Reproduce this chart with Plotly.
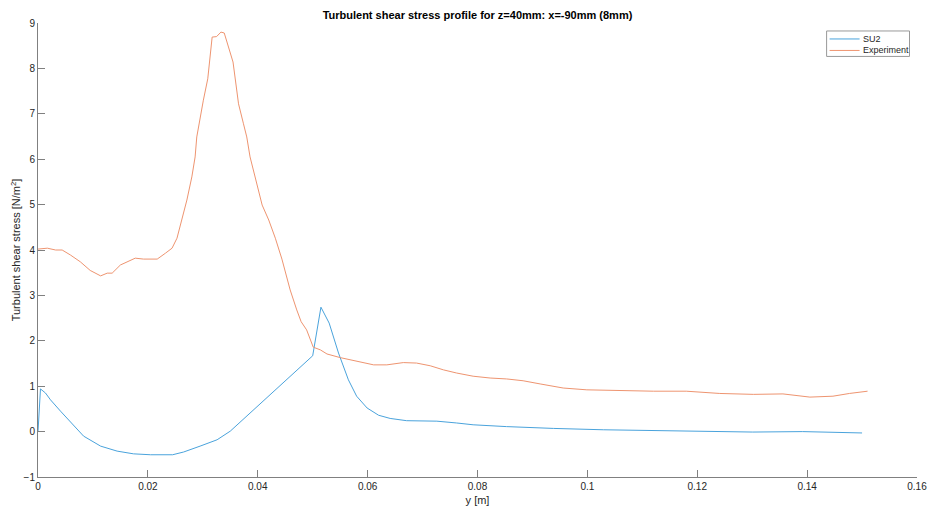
import plotly.graph_objects as go

# SU2 simulation profile
su2_y = [0.0, 0.00045, 0.00136, 0.00227, 0.0041, 0.0059, 0.0083, 0.0114, 0.0144,
         0.0174, 0.0205, 0.0245, 0.0265, 0.0295, 0.0326, 0.0350, 0.0386, 0.0417,
         0.0447, 0.0477, 0.0500, 0.0515, 0.0530, 0.0547, 0.0565, 0.0580, 0.0599,
         0.0620, 0.0641, 0.0671, 0.0726, 0.0762, 0.0792, 0.0853, 0.0914, 0.0938,
         0.1029, 0.1120, 0.1211, 0.1301, 0.1392, 0.1453, 0.1500]
su2_tau = [0.0, 0.94, 0.85, 0.70, 0.45, 0.21, -0.10, -0.32, -0.43,
           -0.49, -0.51, -0.51, -0.45, -0.32, -0.18, 0.01, 0.41, 0.74,
           1.07, 1.40, 1.67, 2.74, 2.39, 1.73, 1.14, 0.78, 0.52,
           0.36, 0.29, 0.24, 0.23, 0.19, 0.15, 0.11, 0.08, 0.07,
           0.04, 0.02, 0.0, -0.01, 0.0, -0.02, -0.03]

# Measured profile
exp_y = [0.0, 0.0017, 0.0032, 0.0044, 0.0059, 0.0077, 0.0095, 0.0105, 0.0114,
         0.0126, 0.0135, 0.0150, 0.0162, 0.0177, 0.0192, 0.0217, 0.0232, 0.0244,
         0.0253, 0.0262, 0.0271, 0.0280, 0.0286, 0.0289, 0.0295, 0.0301, 0.0309,
         0.0312, 0.0317, 0.0325, 0.0333, 0.0339, 0.0347, 0.0355, 0.0361, 0.0365,
         0.0374, 0.0380, 0.0386, 0.0397, 0.0408, 0.0420, 0.0432, 0.0444, 0.0459,
         0.0471, 0.0479, 0.0489, 0.0495, 0.0501, 0.0514, 0.0526, 0.0550, 0.0580,
         0.0611, 0.0635, 0.0665, 0.0689, 0.0714, 0.0738, 0.0762, 0.0792, 0.0823,
         0.0853, 0.0883, 0.0914, 0.0956, 0.0999, 0.1059, 0.1120, 0.1180, 0.1241,
         0.1302, 0.1356, 0.1405, 0.1447, 0.1477, 0.1510]
exp_tau = [4.02, 4.04, 4.00, 4.00, 3.89, 3.74, 3.55, 3.49, 3.43,
           3.49, 3.49, 3.67, 3.73, 3.82, 3.80, 3.80, 3.93, 4.04,
           4.26, 4.66, 5.10, 5.61, 6.05, 6.49, 6.93, 7.30, 7.77,
           8.10, 8.69, 8.70, 8.80, 8.78, 8.47, 8.14, 7.59, 7.22,
           6.78, 6.49, 6.05, 5.54, 4.99, 4.66, 4.26, 3.80, 3.12,
           2.68, 2.42, 2.24, 2.06, 1.86, 1.80, 1.71, 1.63, 1.55,
           1.47, 1.47, 1.52, 1.51, 1.45, 1.36, 1.29, 1.22, 1.18,
           1.16, 1.12, 1.05, 0.96, 0.92, 0.90, 0.89, 0.89, 0.84,
           0.82, 0.83, 0.76, 0.78, 0.84, 0.89]

x_ticks = [0, 0.02, 0.04, 0.06, 0.08, 0.1, 0.12, 0.14, 0.16]
x_tick_text = ["0", "0.02", "0.04", "0.06", "0.08", "0.1", "0.12", "0.14", "0.16"]
y_ticks = [-1, 0, 1, 2, 3, 4, 5, 6, 7, 8, 9]

series_names = ["SU2", "Experiment"]
series_colors = ["#4aa3dc", "#ee9470"]

W, H = 930, 512
ML, MR, MT, MB = 37.5, 12.5, 22.5, 34.5
FONT = "Liberation Sans, Arial, sans-serif"
AXIS_COLOR = "#808080"
TEXT_COLOR = "#262626"


def px_to_paper(px, py):
    """Convert page pixel position to paper (plot-area) coordinates."""
    return (px - ML) / (W - ML - MR), (H - MB - py) / (H - MT - MB)


fig = go.Figure()
for xs, ys, name, color in [(su2_y, su2_tau, series_names[0], series_colors[0]),
                            (exp_y, exp_tau, series_names[1], series_colors[1])]:
    fig.add_trace(go.Scatter(x=xs, y=ys, mode="lines", name=name,
                             line=dict(color=color, width=1), showlegend=False))

axis_common = dict(
    showgrid=False, zeroline=False, showline=True, linecolor=AXIS_COLOR,
    linewidth=1, ticks="inside", ticklen=7, tickcolor=AXIS_COLOR, tickwidth=1,
    tickfont=dict(family=FONT, size=10, color=TEXT_COLOR), mirror=False,
    automargin=False,
)

# Compact boxed legend in the upper-right corner
shapes, annotations = [], []
bx0, by0 = px_to_paper(827, 30.5)
bx1, by1 = px_to_paper(910, 56)
shapes.append(dict(type="rect", xref="paper", yref="paper", x0=bx0, y0=by1, x1=bx1, y1=by0,
                   line=dict(color="#999999", width=1), fillcolor="white", layer="above"))
for i, (name, color) in enumerate(zip(series_names, series_colors)):
    row_y = 38.5 + i * 11.5
    lx0, ly = px_to_paper(830, row_y)
    lx1, _ = px_to_paper(860, row_y)
    tx, _ = px_to_paper(861.5, row_y)
    shapes.append(dict(type="line", xref="paper", yref="paper", x0=lx0, x1=lx1, y0=ly, y1=ly,
                       line=dict(color=color, width=1), layer="above"))
    annotations.append(dict(text=name, xref="paper", yref="paper", x=tx, y=ly,
                            xanchor="left", yanchor="middle", showarrow=False,
                            font=dict(family=FONT, size=9, color=TEXT_COLOR)))

fig.update_layout(
    width=W, height=H,
    margin=dict(l=ML, r=MR, t=MT, b=MB),
    paper_bgcolor="white", plot_bgcolor="white",
    font=dict(family=FONT, size=10, color=TEXT_COLOR),
    title=dict(text="<b>Turbulent shear stress profile for z=40mm: x=-90mm (8mm)</b>",
               x=0.5, xref="paper", xanchor="center", y=1 - 15.5 / H, yanchor="middle",
               font=dict(family=FONT, size=11, color="black")),
    xaxis=dict(range=[0, 0.16], tickvals=x_ticks, ticktext=x_tick_text,
               title=dict(text="y [m]", standoff=5,
                          font=dict(family=FONT, size=11, color=TEXT_COLOR)),
               **axis_common),
    yaxis=dict(range=[-1, 9], tickvals=y_ticks,
               title=dict(text="Turbulent shear stress [N/m<sup>2</sup>]", standoff=0,
                          font=dict(family=FONT, size=11, color=TEXT_COLOR)),
               **axis_common),
    shapes=shapes,
    annotations=annotations,
    showlegend=False,
)

fig.write_html("out.html")
